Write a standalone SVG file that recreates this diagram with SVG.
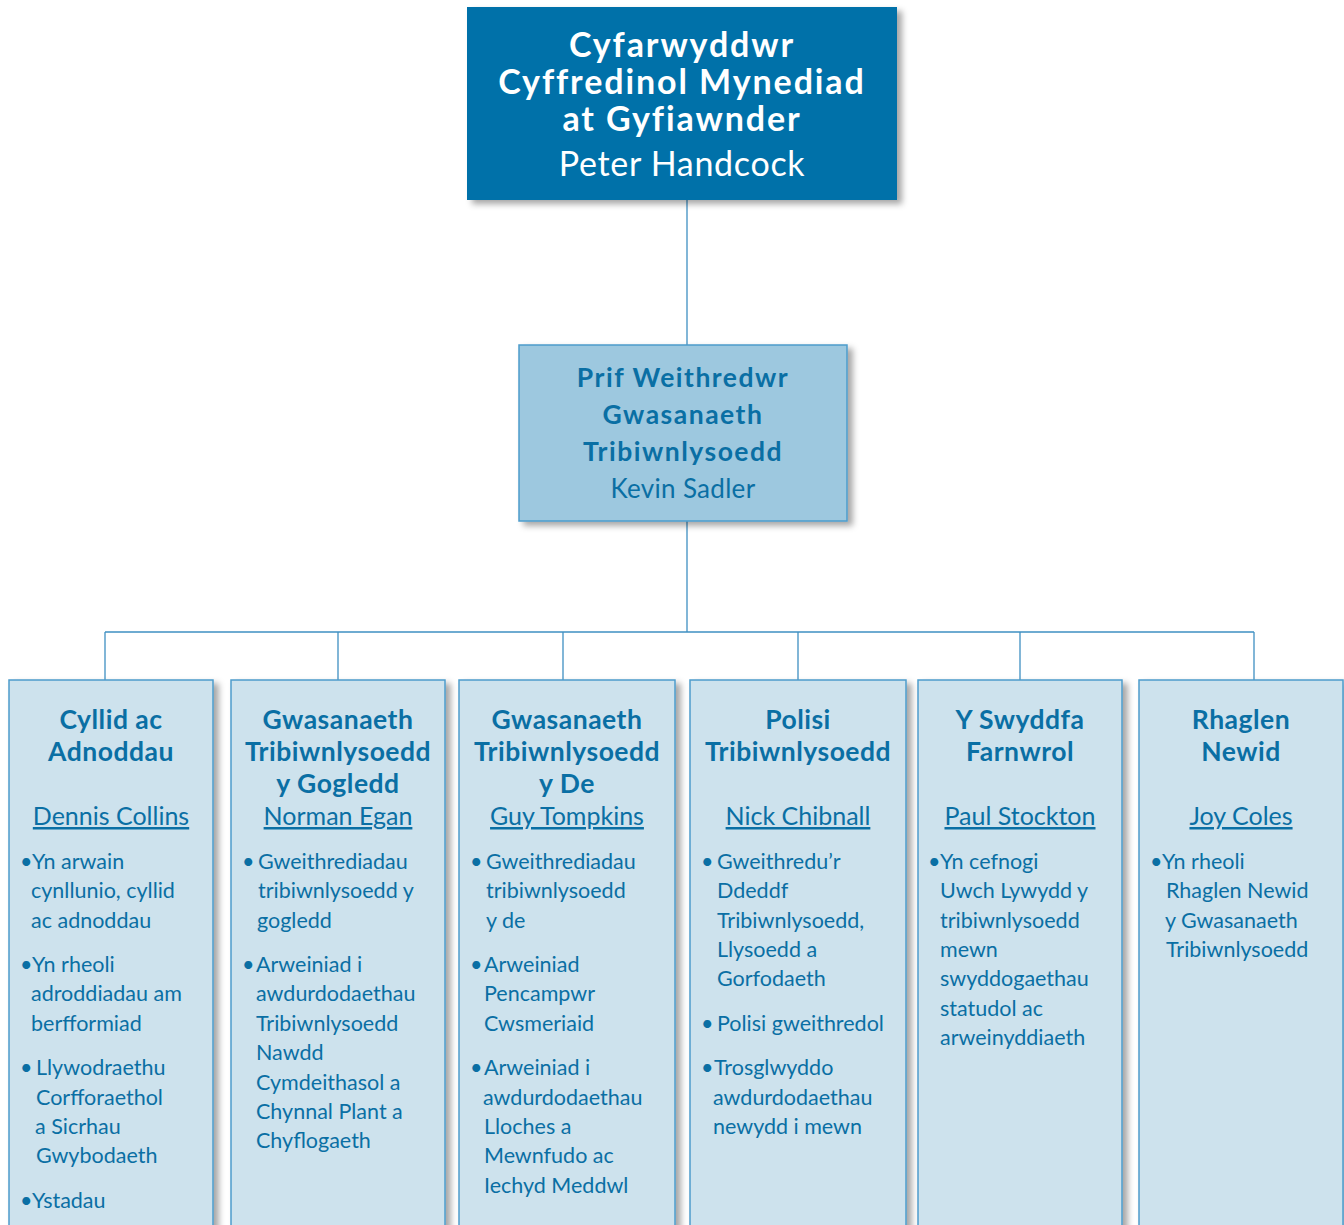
<svg xmlns="http://www.w3.org/2000/svg" width="1344" height="1225" viewBox="0 0 1344 1225">
<style>
.t{font-family:Lato,"Open Sans","Liberation Sans",sans-serif;fill:#0a6fa4}
.h{font-weight:700;font-size:26.5px;text-anchor:middle;letter-spacing:0.5px}
.n{font-size:25px;text-anchor:middle;text-decoration:underline}
.b{font-size:21.5px}
.w{fill:#fff;text-anchor:middle}
.wb{font-size:34px;font-weight:700;letter-spacing:1.9px}
.s{font-size:26.5px;font-weight:700;text-anchor:middle;letter-spacing:1.5px}
.col{fill:#cde2ed;stroke:#4d9ccb;stroke-width:1.5}
.ln{stroke:#3f90c2;stroke-width:1.3;fill:none}
</style>
<defs>
<filter id="sh" x="-10%" y="-10%" width="130%" height="130%">
<feDropShadow dx="5" dy="4" stdDeviation="3" flood-color="#000" flood-opacity="0.35"/>
</filter>
</defs>
<g id="connectors">
<path class="ln" d="M687 200V345M687 521V632M105 632H1254M105 632V680M338 632V680M563 632V680M798 632V680M1020 632V680M1254 632V680"/>
</g>
<g id="n0">
<rect x="467" y="7" width="430" height="193" fill="#0071a9" filter="url(#sh)"/>
<text class="t w wb" x="682" y="57">Cyfarwyddwr</text>
<text class="t w wb" x="682" y="94">Cyffredinol Mynediad</text>
<text class="t w wb" x="682" y="131">at Gyfiawnder</text>
<text class="t w" x="682" y="176" font-size="34" letter-spacing="0.7">Peter Handcock</text>
</g>
<g id="n1">
<rect x="519" y="345" width="328" height="176" fill="#9dc8df" stroke="#4d9ccb" stroke-width="1.5" filter="url(#sh)"/>
<text class="t s" x="683" y="387">Prif Weithredwr</text>
<text class="t s" x="683" y="424">Gwasanaeth</text>
<text class="t s" x="683" y="461">Tribiwnlysoedd</text>
<text class="t" x="683" y="498" font-size="26" text-anchor="middle" letter-spacing="0.3">Kevin Sadler</text>
</g>
<g id="c1">
<rect class="col" x="9" y="680" width="204" height="560" filter="url(#sh)"/>
<text class="t h" x="111" y="729">Cyllid ac</text>
<text class="t h" x="111" y="761">Adnoddau</text>
<text class="t n" x="111" y="825">Dennis Collins</text>
<text class="t b" x="20" y="869">•</text>
<text class="t b" x="32" y="869">Yn arwain</text>
<text class="t b" x="31" y="898">cynllunio, cyllid</text>
<text class="t b" x="31" y="928">ac adnoddau</text>
<text class="t b" x="20" y="972">•</text>
<text class="t b" x="32" y="972">Yn rheoli</text>
<text class="t b" x="31" y="1001">adroddiadau am</text>
<text class="t b" x="31" y="1031">berfformiad</text>
<text class="t b" x="20" y="1075">•</text>
<text class="t b" x="36" y="1075">Llywodraethu</text>
<text class="t b" x="36" y="1105">Corfforaethol</text>
<text class="t b" x="35" y="1134">a Sicrhau</text>
<text class="t b" x="36" y="1163">Gwybodaeth</text>
<text class="t b" x="20" y="1208">•</text>
<text class="t b" x="32" y="1208">Ystadau</text>
</g>
<g id="c2">
<rect class="col" x="231" y="680" width="214" height="560" filter="url(#sh)"/>
<text class="t h" x="338" y="729">Gwasanaeth</text>
<text class="t h" x="338" y="761">Tribiwnlysoedd</text>
<text class="t h" x="338" y="793">y Gogledd</text>
<text class="t n" x="338" y="825">Norman Egan</text>
<text class="t b" x="242" y="869">•</text>
<text class="t b" x="258" y="869">Gweithrediadau</text>
<text class="t b" x="258" y="898">tribiwnlysoedd y</text>
<text class="t b" x="257" y="928">gogledd</text>
<text class="t b" x="242" y="972">•</text>
<text class="t b" x="256" y="972">Arweiniad i</text>
<text class="t b" x="256" y="1001">awdurdodaethau</text>
<text class="t b" x="256" y="1031">Tribiwnlysoedd</text>
<text class="t b" x="256" y="1060">Nawdd</text>
<text class="t b" x="256" y="1090">Cymdeithasol a</text>
<text class="t b" x="256" y="1119">Chynnal Plant a</text>
<text class="t b" x="256" y="1148">Chyflogaeth</text>
</g>
<g id="c3">
<rect class="col" x="459" y="680" width="216" height="560" filter="url(#sh)"/>
<text class="t h" x="567" y="729">Gwasanaeth</text>
<text class="t h" x="567" y="761">Tribiwnlysoedd</text>
<text class="t h" x="567" y="793">y De</text>
<text class="t n" x="567" y="825">Guy Tompkins</text>
<text class="t b" x="470" y="869">•</text>
<text class="t b" x="486" y="869">Gweithrediadau</text>
<text class="t b" x="486" y="898">tribiwnlysoedd</text>
<text class="t b" x="486" y="928">y de</text>
<text class="t b" x="470" y="972">•</text>
<text class="t b" x="484" y="972">Arweiniad</text>
<text class="t b" x="484" y="1001">Pencampwr</text>
<text class="t b" x="484" y="1031">Cwsmeriaid</text>
<text class="t b" x="470" y="1075">•</text>
<text class="t b" x="484" y="1075">Arweiniad i</text>
<text class="t b" x="483" y="1105">awdurdodaethau</text>
<text class="t b" x="484" y="1134">Lloches a</text>
<text class="t b" x="484" y="1163">Mewnfudo ac</text>
<text class="t b" x="484" y="1193">Iechyd Meddwl</text>
</g>
<g id="c4">
<rect class="col" x="690" y="680" width="216" height="560" filter="url(#sh)"/>
<text class="t h" x="798" y="729">Polisi</text>
<text class="t h" x="798" y="761">Tribiwnlysoedd</text>
<text class="t n" x="798" y="825">Nick Chibnall</text>
<text class="t b" x="701" y="869">•</text>
<text class="t b" x="717" y="869">Gweithredu’r</text>
<text class="t b" x="717" y="898">Ddeddf</text>
<text class="t b" x="717" y="928">Tribiwnlysoedd,</text>
<text class="t b" x="717" y="957">Llysoedd a</text>
<text class="t b" x="717" y="986">Gorfodaeth</text>
<text class="t b" x="701" y="1031">•</text>
<text class="t b" x="717" y="1031">Polisi gweithredol</text>
<text class="t b" x="701" y="1075">•</text>
<text class="t b" x="714" y="1075">Trosglwyddo</text>
<text class="t b" x="713" y="1105">awdurdodaethau</text>
<text class="t b" x="713" y="1134">newydd i mewn</text>
</g>
<g id="c5">
<rect class="col" x="918" y="680" width="204" height="560" filter="url(#sh)"/>
<text class="t h" x="1020" y="729">Y Swyddfa</text>
<text class="t h" x="1020" y="761">Farnwrol</text>
<text class="t n" x="1020" y="825">Paul Stockton</text>
<text class="t b" x="928" y="869">•</text>
<text class="t b" x="940" y="869">Yn cefnogi</text>
<text class="t b" x="940" y="898">Uwch Lywydd y</text>
<text class="t b" x="940" y="928">tribiwnlysoedd</text>
<text class="t b" x="940" y="957">mewn</text>
<text class="t b" x="940" y="986">swyddogaethau</text>
<text class="t b" x="940" y="1016">statudol ac</text>
<text class="t b" x="940" y="1045">arweinyddiaeth</text>
</g>
<g id="c6">
<rect class="col" x="1139" y="680" width="204" height="560" filter="url(#sh)"/>
<text class="t h" x="1241" y="729">Rhaglen</text>
<text class="t h" x="1241" y="761">Newid</text>
<text class="t n" x="1241" y="825">Joy Coles</text>
<text class="t b" x="1150" y="869">•</text>
<text class="t b" x="1162" y="869">Yn rheoli</text>
<text class="t b" x="1166" y="898">Rhaglen Newid</text>
<text class="t b" x="1165" y="928">y Gwasanaeth</text>
<text class="t b" x="1166" y="957">Tribiwnlysoedd</text>
</g>
</svg>
